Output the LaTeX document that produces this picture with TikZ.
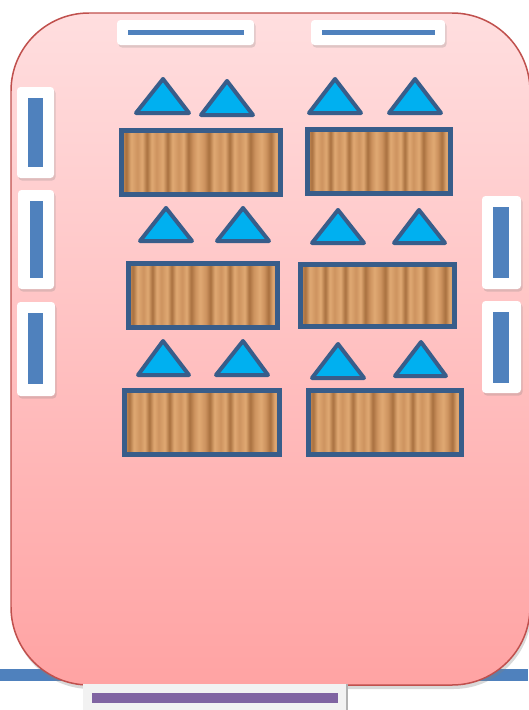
\documentclass[tikz,border=0pt]{standalone}
\usepackage{xcolor}
\usepackage{tikz}
\usetikzlibrary{shadows}
\definecolor{roomtop}{HTML}{FFDEDF}
\definecolor{roombot}{HTML}{FFA3A3}
\definecolor{roomline}{HTML}{C0504D}
\definecolor{winblue}{HTML}{4F81BD}
\definecolor{seatblue}{HTML}{00B0F0}
\definecolor{edgeblue}{HTML}{385D8A}
\definecolor{doorpurple}{HTML}{8064A2}
\definecolor{woodA}{HTML}{E0A973}
\definecolor{woodB}{HTML}{CD935F}
\definecolor{woodC}{HTML}{A8703F}
\pgfdeclarehorizontalshading{wood}{100bp}{color(0bp)=(woodB); color(25bp)=(woodB);
  color(26.5bp)=(woodC); color(28bp)=(woodA); color(30bp)=(woodB); color(31.5bp)=(woodA);
  color(33bp)=(woodC); color(34.5bp)=(woodA); color(36bp)=(woodB); color(38bp)=(woodA);
  color(39.5bp)=(woodC); color(41bp)=(woodA); color(43bp)=(woodB); color(44.5bp)=(woodA);
  color(46bp)=(woodC); color(47.5bp)=(woodB); color(49bp)=(woodA); color(51bp)=(woodB);
  color(52.5bp)=(woodC); color(54bp)=(woodA); color(56bp)=(woodB); color(57.5bp)=(woodA);
  color(59bp)=(woodC); color(60.5bp)=(woodA); color(62bp)=(woodB); color(64bp)=(woodA);
  color(65.5bp)=(woodC); color(67bp)=(woodB); color(69bp)=(woodA); color(70.5bp)=(woodB);
  color(72bp)=(woodC); color(73.5bp)=(woodA); color(75bp)=(woodB); color(100bp)=(woodB)}

\begin{document}
\begin{tikzpicture}[
    x=0.02cm, y=-0.02cm,
    room/.style={draw=roomline, line width=0.03cm, top color=roomtop, bottom color=roombot,
                 rounded corners=1.56cm,
                 drop shadow={shadow xshift=0.03cm, shadow yshift=-0.08cm, opacity=0.3}},
    window/.style={fill=white, rounded corners=0.07cm,
                   drop shadow={shadow xshift=0.03cm, shadow yshift=-0.05cm, opacity=0.25}},
    bar/.style={fill=winblue},
    desk/.style={draw=edgeblue, line width=0.1cm, shading=wood},
    seat/.style={draw=edgeblue, fill=seatblue, line width=0.08cm, line join=round}
]
\useasboundingbox (0,0) rectangle (528,710);

% Wall line and room
\fill[winblue] (0,669) rectangle (528,681);
\draw[room] (11,13) rectangle (530,685);

% Windows, top
\path[window] (117,20) rectangle (254,45);
\fill[bar] (128,30) rectangle (244,35);
\path[window] (311,20) rectangle (445,45);
\fill[bar] (322,30) rectangle (435,35);

% Windows, left
\path[window] (17,87) rectangle (54,178);
\fill[bar] (28,98) rectangle (43,167);
\path[window] (18,190) rectangle (54,289);
\fill[bar] (30,201) rectangle (43,278);
\path[window] (17,302) rectangle (55,396);
\fill[bar] (28,313) rectangle (43,384);

% Windows, right
\path[window] (482,196) rectangle (521,289);
\fill[bar] (493,207) rectangle (509,278);
\path[window] (482,301) rectangle (521,393);
\fill[bar] (493,312) rectangle (509,383);

% Door
\fill[gray!10] (83,684) rectangle (347,710);
\draw[gray!60, line width=0.04cm] (347,684) -- (347,710);
\fill[doorpurple] (92,693) rectangle (338,703);

% Seats, row 1
\draw[seat] (136,113) -- (163,79) -- (189,113) -- cycle;
\draw[seat] (201,115) -- (227,81) -- (253,115) -- cycle;
\draw[seat] (309,113) -- (335,79) -- (361,113) -- cycle;
\draw[seat] (389,113) -- (415,79) -- (441,113) -- cycle;

% Desks, row 1
\path[desk] (121.5,130.5) rectangle (280.5,194.5);
\path[desk] (307.5,129.5) rectangle (450.5,193.5);

% Seats, row 2
\draw[seat] (140,241) -- (166,208) -- (192,241) -- cycle;
\draw[seat] (217,241) -- (243,208) -- (269,241) -- cycle;
\draw[seat] (312,243) -- (338,210) -- (364,243) -- cycle;
\draw[seat] (394,243) -- (419,210) -- (445,243) -- cycle;

% Desks, row 2
\path[desk] (128.5,263.5) rectangle (277.5,327.5);
\path[desk] (300.5,264.5) rectangle (454.5,326.5);

% Seats, row 3
\draw[seat] (138,375) -- (163,341) -- (189,375) -- cycle;
\draw[seat] (216,375) -- (243,341) -- (268,375) -- cycle;
\draw[seat] (312,378) -- (338,344) -- (364,378) -- cycle;
\draw[seat] (395,376) -- (421,342) -- (446,376) -- cycle;

% Desks, row 3
\path[desk] (124.5,390.5) rectangle (279.5,454.5);
\path[desk] (308.5,390.5) rectangle (461.5,454.5);

\end{tikzpicture}
\end{document}
